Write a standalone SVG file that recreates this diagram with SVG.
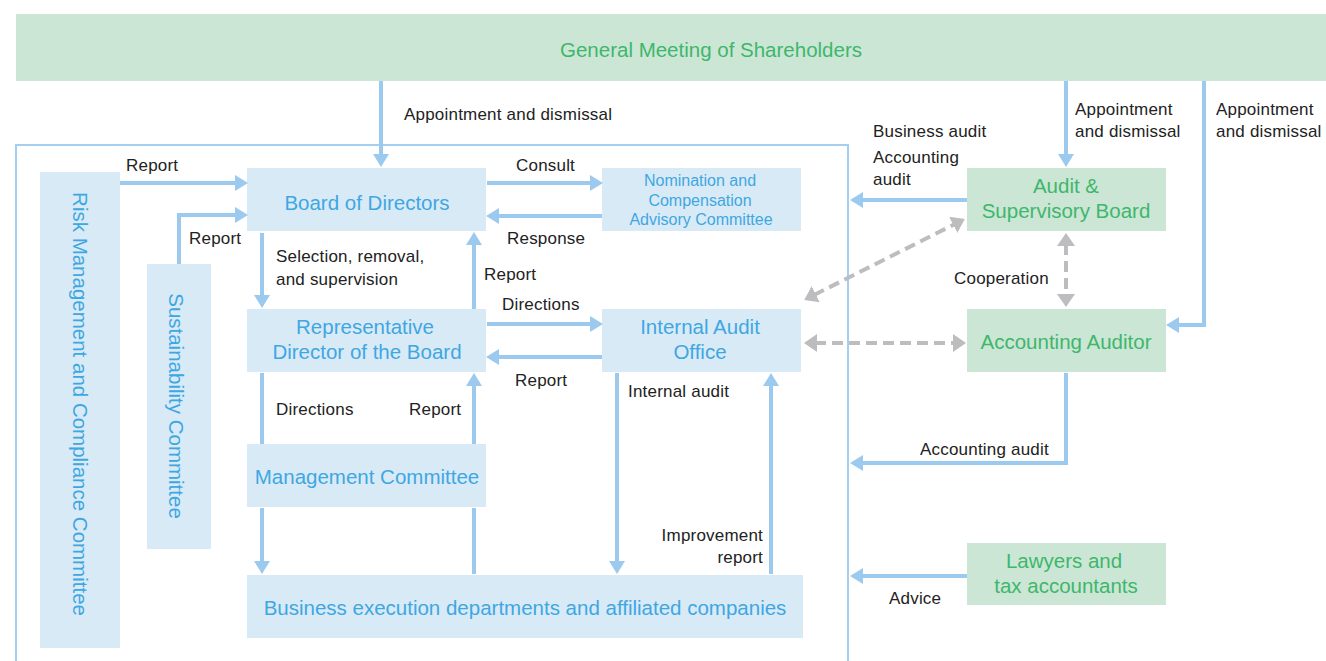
<svg xmlns="http://www.w3.org/2000/svg" width="1326" height="661" viewBox="0 0 1326 661">
<style>
.bb{fill:#d9eaf7}
.gb{fill:#cce6d5}
.bt{fill:#3ea7e2;font-family:"Liberation Sans",Arial,sans-serif;font-size:20.5px;text-anchor:middle}
.gt{fill:#3db76c;font-family:"Liberation Sans",Arial,sans-serif;font-size:20.5px;text-anchor:middle}
.lb{fill:#222;font-family:"Liberation Sans",Arial,sans-serif;font-size:17px;letter-spacing:0.2px}
.ar{fill:none;stroke:#9ccaee;stroke-width:4}
.ln{fill:none;stroke:#9ccaee;stroke-width:4}
.ds{fill:none;stroke:#bdbdc0;stroke-width:4;stroke-dasharray:11 6}
</style>
<defs>
<marker id="ah" markerUnits="userSpaceOnUse" markerWidth="14" markerHeight="16" refX="2" refY="8" orient="auto" viewBox="0 0 14 16">
<path d="M0,0 L13,8 L0,16 z" fill="#9ccaee"/>
</marker>
<marker id="gh" markerUnits="userSpaceOnUse" markerWidth="14" markerHeight="18" refX="2" refY="9" orient="auto-start-reverse" viewBox="0 0 14 18">
<path d="M0,0 L13,9 L0,18 z" fill="#bdbdc0"/>
</marker>
</defs>

<rect x="16" y="145" width="832" height="530" fill="none" stroke="#a5cff0" stroke-width="2"/>

<g id="gms"><rect class="gb" x="16" y="14" width="1310" height="67"/><text class="gt" x="711" y="57">General Meeting of Shareholders</text></g>
<g id="risk"><rect class="bb" x="40" y="172" width="80" height="476"/><text class="bt" transform="translate(73,404) rotate(90)">Risk Management and Compliance Committee</text></g>
<g id="sust"><rect class="bb" x="147" y="264" width="64" height="285"/><text class="bt" transform="translate(169,406) rotate(90)">Sustainability Committee</text></g>
<g id="board"><rect class="bb" x="247" y="168" width="239" height="63"/><text class="bt" x="367" y="210">Board of Directors</text></g>
<g id="nom"><rect class="bb" x="602" y="168" width="199" height="63"/><text class="bt" style="font-size:16px" x="700" y="186">Nomination and</text><text class="bt" style="font-size:16px" x="700" y="206">Compensation</text><text class="bt" style="font-size:16px" x="701" y="225">Advisory Committee</text></g>
<g id="rep"><rect class="bb" x="247" y="309" width="239" height="63"/><text class="bt" x="365" y="334">Representative</text><text class="bt" x="367" y="359">Director of the Board</text></g>
<g id="iao"><rect class="bb" x="602" y="309" width="199" height="63"/><text class="bt" x="700" y="334">Internal Audit</text><text class="bt" x="700" y="359">Office</text></g>
<g id="mgmt"><rect class="bb" x="247" y="444" width="239" height="63"/><text class="bt" x="367" y="484">Management Committee</text></g>
<g id="biz"><rect class="bb" x="247" y="575" width="556" height="63"/><text class="bt" x="525" y="615">Business execution departments and affiliated companies</text></g>
<g id="asb"><rect class="gb" x="967" y="168" width="199" height="63"/><text class="gt" x="1066" y="193">Audit &amp;</text><text class="gt" x="1066" y="218">Supervisory Board</text></g>
<g id="aa"><rect class="gb" x="967" y="309" width="199" height="63"/><text class="gt" x="1066" y="349">Accounting Auditor</text></g>
<g id="law"><rect class="gb" x="967" y="543" width="199" height="62"/><text class="gt" x="1064" y="568">Lawyers and</text><text class="gt" x="1066" y="593">tax accountants</text></g>

<g id="connectors">
<path class="ar" d="M381,81 V156" marker-end="url(#ah)"/>
<path class="ar" d="M120,183 H237" marker-end="url(#ah)"/>
<path class="ar" d="M179,264 V215 H237" marker-end="url(#ah)"/>
<path class="ar" d="M487,183 H592" marker-end="url(#ah)"/>
<path class="ar" d="M602,216 H497" marker-end="url(#ah)"/>
<path class="ar" d="M262,233 V297" marker-end="url(#ah)"/>
<path class="ar" d="M474,309 V243" marker-end="url(#ah)"/>
<path class="ar" d="M487,324 H592" marker-end="url(#ah)"/>
<path class="ar" d="M602,357 H497" marker-end="url(#ah)"/>
<path class="ln" d="M262,373 V444"/>
<path class="ar" d="M262,508 V563" marker-end="url(#ah)"/>
<path class="ln" d="M474,574 V508"/>
<path class="ar" d="M474,444 V384" marker-end="url(#ah)"/>
<path class="ar" d="M617,373 V563" marker-end="url(#ah)"/>
<path class="ar" d="M771,574 V384" marker-end="url(#ah)"/>
<path class="ar" d="M1066,81 V156" marker-end="url(#ah)"/>
<path class="ar" d="M1204,81 V325 H1177" marker-end="url(#ah)"/>
<path class="ar" d="M967,200 H861" marker-end="url(#ah)"/>
<path class="ar" d="M1066,373 V463 H861" marker-end="url(#ah)"/>
<path class="ar" d="M967,576 H861" marker-end="url(#ah)"/>
<path class="ds" d="M814,295 L955,224" marker-start="url(#gh)" marker-end="url(#gh)"/>
<path class="ds" d="M1066,244 V296" marker-start="url(#gh)" marker-end="url(#gh)"/>
<path class="ds" d="M815,343 H955" marker-start="url(#gh)" marker-end="url(#gh)"/>
</g>

<g id="labels">
<text class="lb" x="404" y="120">Appointment and dismissal</text>
<text class="lb" x="126" y="171">Report</text>
<text class="lb" x="189" y="244">Report</text>
<text class="lb" x="516" y="171">Consult</text>
<text class="lb" x="507" y="244">Response</text>
<text class="lb" x="276" y="262">Selection, removal,</text>
<text class="lb" x="276" y="285">and supervision</text>
<text class="lb" x="484" y="280">Report</text>
<text class="lb" x="502" y="310">Directions</text>
<text class="lb" x="515" y="386">Report</text>
<text class="lb" x="276" y="415">Directions</text>
<text class="lb" x="409" y="415">Report</text>
<text class="lb" x="628" y="397">Internal audit</text>
<text class="lb" x="763" y="541" text-anchor="end">Improvement</text>
<text class="lb" x="763" y="563" text-anchor="end">report</text>
<text class="lb" x="873" y="137">Business audit</text>
<text class="lb" x="873" y="163">Accounting</text>
<text class="lb" x="873" y="185">audit</text>
<text class="lb" x="1075" y="115">Appointment</text>
<text class="lb" x="1075" y="137">and dismissal</text>
<text class="lb" x="1216" y="115">Appointment</text>
<text class="lb" x="1216" y="137">and dismissal</text>
<text class="lb" x="954" y="284">Cooperation</text>
<text class="lb" x="920" y="455">Accounting audit</text>
<text class="lb" x="889" y="604">Advice</text>
</g>
</svg>
